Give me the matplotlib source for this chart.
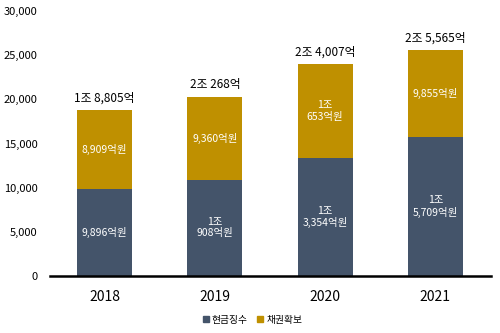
import matplotlib
matplotlib.use("Agg")
import matplotlib.pyplot as plt
import matplotlib.patches as mpatches
import numpy as np

plt.rcParams['font.family'] = ['Noto Sans CJK KR', 'DejaVu Sans']

# data (억원)
years = ["2018", "2019", "2020", "2021"]
cash = [9896, 10908, 13354, 15709]
bonds = [8909, 9360, 10653, 9855]
cash_labels = ["9,896억원", "1조\n908억원", "1조\n3,354억원", "1조\n5,709억원"]
bond_labels = ["8,909억원", "9,360억원", "1조\n653억원", "9,855억원"]
total_labels = ["1조 8,805억", "2조 268억", "2조 4,007억", "2조 5,565억"]
y_ticks = [0, 5000, 10000, 15000, 20000, 25000, 30000]

C_CASH = "#44546A"
C_BOND = "#BF9000"

fig = plt.figure(figsize=(5, 3.33), dpi=100, facecolor="white")
ax = fig.add_axes([0.099, 0.171, 0.882, 0.796])

x = np.arange(len(years))
cash = np.array(cash)
bonds = np.array(bonds)
ax.bar(x, cash, width=0.5, color=C_CASH, zorder=2)
ax.bar(x, bonds, width=0.5, bottom=cash, color=C_BOND, zorder=2)

for i in range(len(years)):
    ax.text(x[i], cash[i] / 2, cash_labels[i], ha='center', va='center',
            color='white', fontsize=7.5, linespacing=1.15)
    ax.text(x[i], cash[i] + bonds[i] / 2, bond_labels[i], ha='center', va='center',
            color='white', fontsize=7.5, linespacing=1.15)
    ax.annotate(total_labels[i], (x[i], cash[i] + bonds[i]), xytext=(0, 4),
                textcoords='offset points', ha='center', va='bottom',
                color='black', fontsize=8.5)

ax.set_xlim(-0.5, len(years) - 0.5)
ax.set_ylim(0, 30000)
ax.set_yticks(y_ticks)
ax.set_yticklabels([f"{v:,}" for v in y_ticks], fontsize=8)
ax.set_xticks(x)
ax.set_xticklabels(years, fontsize=10)
ax.tick_params(axis='y', length=0, pad=8.5)
ax.tick_params(axis='x', length=0, pad=10)

for s in ["top", "right", "left"]:
    ax.spines[s].set_visible(False)
ax.spines["bottom"].set_linewidth(1.8)
ax.spines["bottom"].set_color("black")

handles = [mpatches.Patch(color=C_CASH, label="현금징수"),
           mpatches.Patch(color=C_BOND, label="채권확보")]
fig.legend(handles=handles, loc='center', bbox_to_anchor=(0.505, 0.04), ncol=2,
           frameon=False, fontsize=7, handlelength=0.6, handleheight=0.6,
           handletextpad=0.3, columnspacing=1.0)

fig.savefig("out.png", dpi=100, facecolor="white")
